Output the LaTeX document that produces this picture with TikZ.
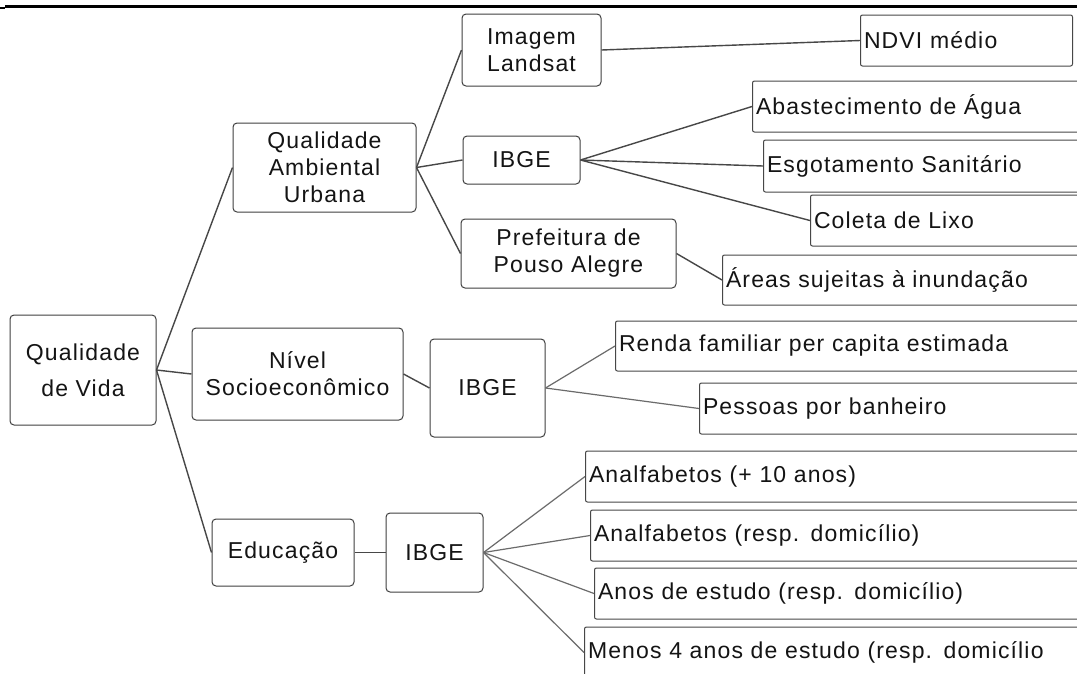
\documentclass[tikz,border=0pt]{standalone}
\usepackage{fontspec}
\setmainfont{Liberation Sans}[LetterSpace=5]
\begin{document}
\begin{tikzpicture}[x=1pt,y=-1pt,
  inner/.style={draw=black!75, line width=1pt, rounded corners=4pt, align=center,
    inner sep=0pt, text=black!92, font=\fontsize{23}{27}\selectfont},
  leaf/.style={draw=black!72, line width=1pt, rounded corners=2pt, inner xsep=3.5pt,
    inner ysep=0pt, align=left, anchor=west, text=black!92, font=\fontsize{23}{27}\selectfont},
  link/.style={draw=black!72, line width=1.4pt},
  linkl/.style={draw=black!58, line width=1.2pt}]
\useasboundingbox (0,0) rectangle (1077,673);
\fill[white] (0,0) rectangle (1077,673);
\clip (0,0) rectangle (1077,673);
% top rule
\fill[black] (5,4.7) rectangle (1077,7.6);
\fill[black] (0,7) rectangle (5,9);
% inner nodes
\node[inner, minimum width=146, minimum height=110, font=\fontsize{23}{36}\selectfont] (qdv) at (83,370) {Qualidade\\de Vida};
\node[inner, minimum width=183, minimum height=89] (qau) at (324.5,167.5) {Qualidade\\Ambiental\\Urbana};
\node[inner, minimum width=211, minimum height=92] (niv) at (297.5,374) {Nível\\Socioeconômico};
\node[inner, minimum width=142, minimum height=67] (edu) at (283,552.5) {Educação};
\node[inner, minimum width=139, minimum height=72] (img) at (531.5,50) {Imagem\\Landsat};
\node[inner, minimum width=117, minimum height=48] (ibgea) at (521.5,160) {IBGE};
\node[inner, minimum width=215, minimum height=69] (pref) at (568.5,253.5) {Prefeitura de\\Pouso Alegre};
\node[inner, minimum width=115, minimum height=98] (ibgeb) at (487.5,388) {IBGE};
\node[inner, minimum width=97, minimum height=79] (ibgec) at (434.5,552.5) {IBGE};
% leaves
\node[leaf, text width=205, minimum height=51] (ndvi) at (860,40.5) {NDVI médio};
\node[leaf, text width=326, minimum height=51] (abast) at (752,106.5) {Abastecimento de Água};
\node[leaf, text width=315, minimum height=52] (esgot) at (763,166) {Esgotamento Sanitário};
\node[leaf, text width=268, minimum height=51] (coleta) at (810,220.5) {Coleta de Lixo};
\node[leaf, text width=356, minimum height=50] (areas) at (722,280) {Áreas sujeitas à inundação};
\node[leaf, text width=463, minimum height=50] (renda) at (615,346) {Renda familiar per capita estimada};
\node[leaf, text width=379, minimum height=51] (pessoas) at (699,408.5) {Pessoas por banheiro};
\node[leaf, text width=493, minimum height=51] (analfa) at (585,476.5) {Analfabetos (+ 10 anos)};
\node[leaf, text width=488, minimum height=51] (analfb) at (590,535.5) {Analfabetos (resp. domicílio)};
\node[leaf, text width=484, minimum height=51] (anos) at (594,593.5) {Anos de estudo (resp. domicílio)};
\node[leaf, text width=494, minimum height=51] (menos) at (584,652.5) {Menos 4 anos de estudo (resp. domicílio};
% connectors
\draw[link] (qdv.east) -- (qau.west);
\draw[link] (qdv.east) -- (niv.west);
\draw[link] (qdv.east) -- (edu.west);
\draw[link] (qau.east) -- (img.west);
\draw[link] (qau.east) -- (ibgea.west);
\draw[link] (qau.east) -- (pref.west);
\draw[link] (img.east) -- (ndvi.west);
\draw[link] (ibgea.east) -- (abast.west);
\draw[link] (ibgea.east) -- (esgot.west);
\draw[link] (ibgea.east) -- (coleta.west);
\draw[link] (pref.east) -- (areas.west);
\draw[link] (niv.east) -- (ibgeb.west);
\draw[linkl] (ibgeb.east) -- (renda.west);
\draw[linkl] (ibgeb.east) -- (pessoas.west);
\draw[link] (edu.east) -- (ibgec.west);
\draw[linkl] (ibgec.east) -- (analfa.west);
\draw[linkl] (ibgec.east) -- (analfb.west);
\draw[linkl] (ibgec.east) -- (anos.west);
\draw[linkl] (ibgec.east) -- (menos.west);
\end{tikzpicture}
\end{document}
